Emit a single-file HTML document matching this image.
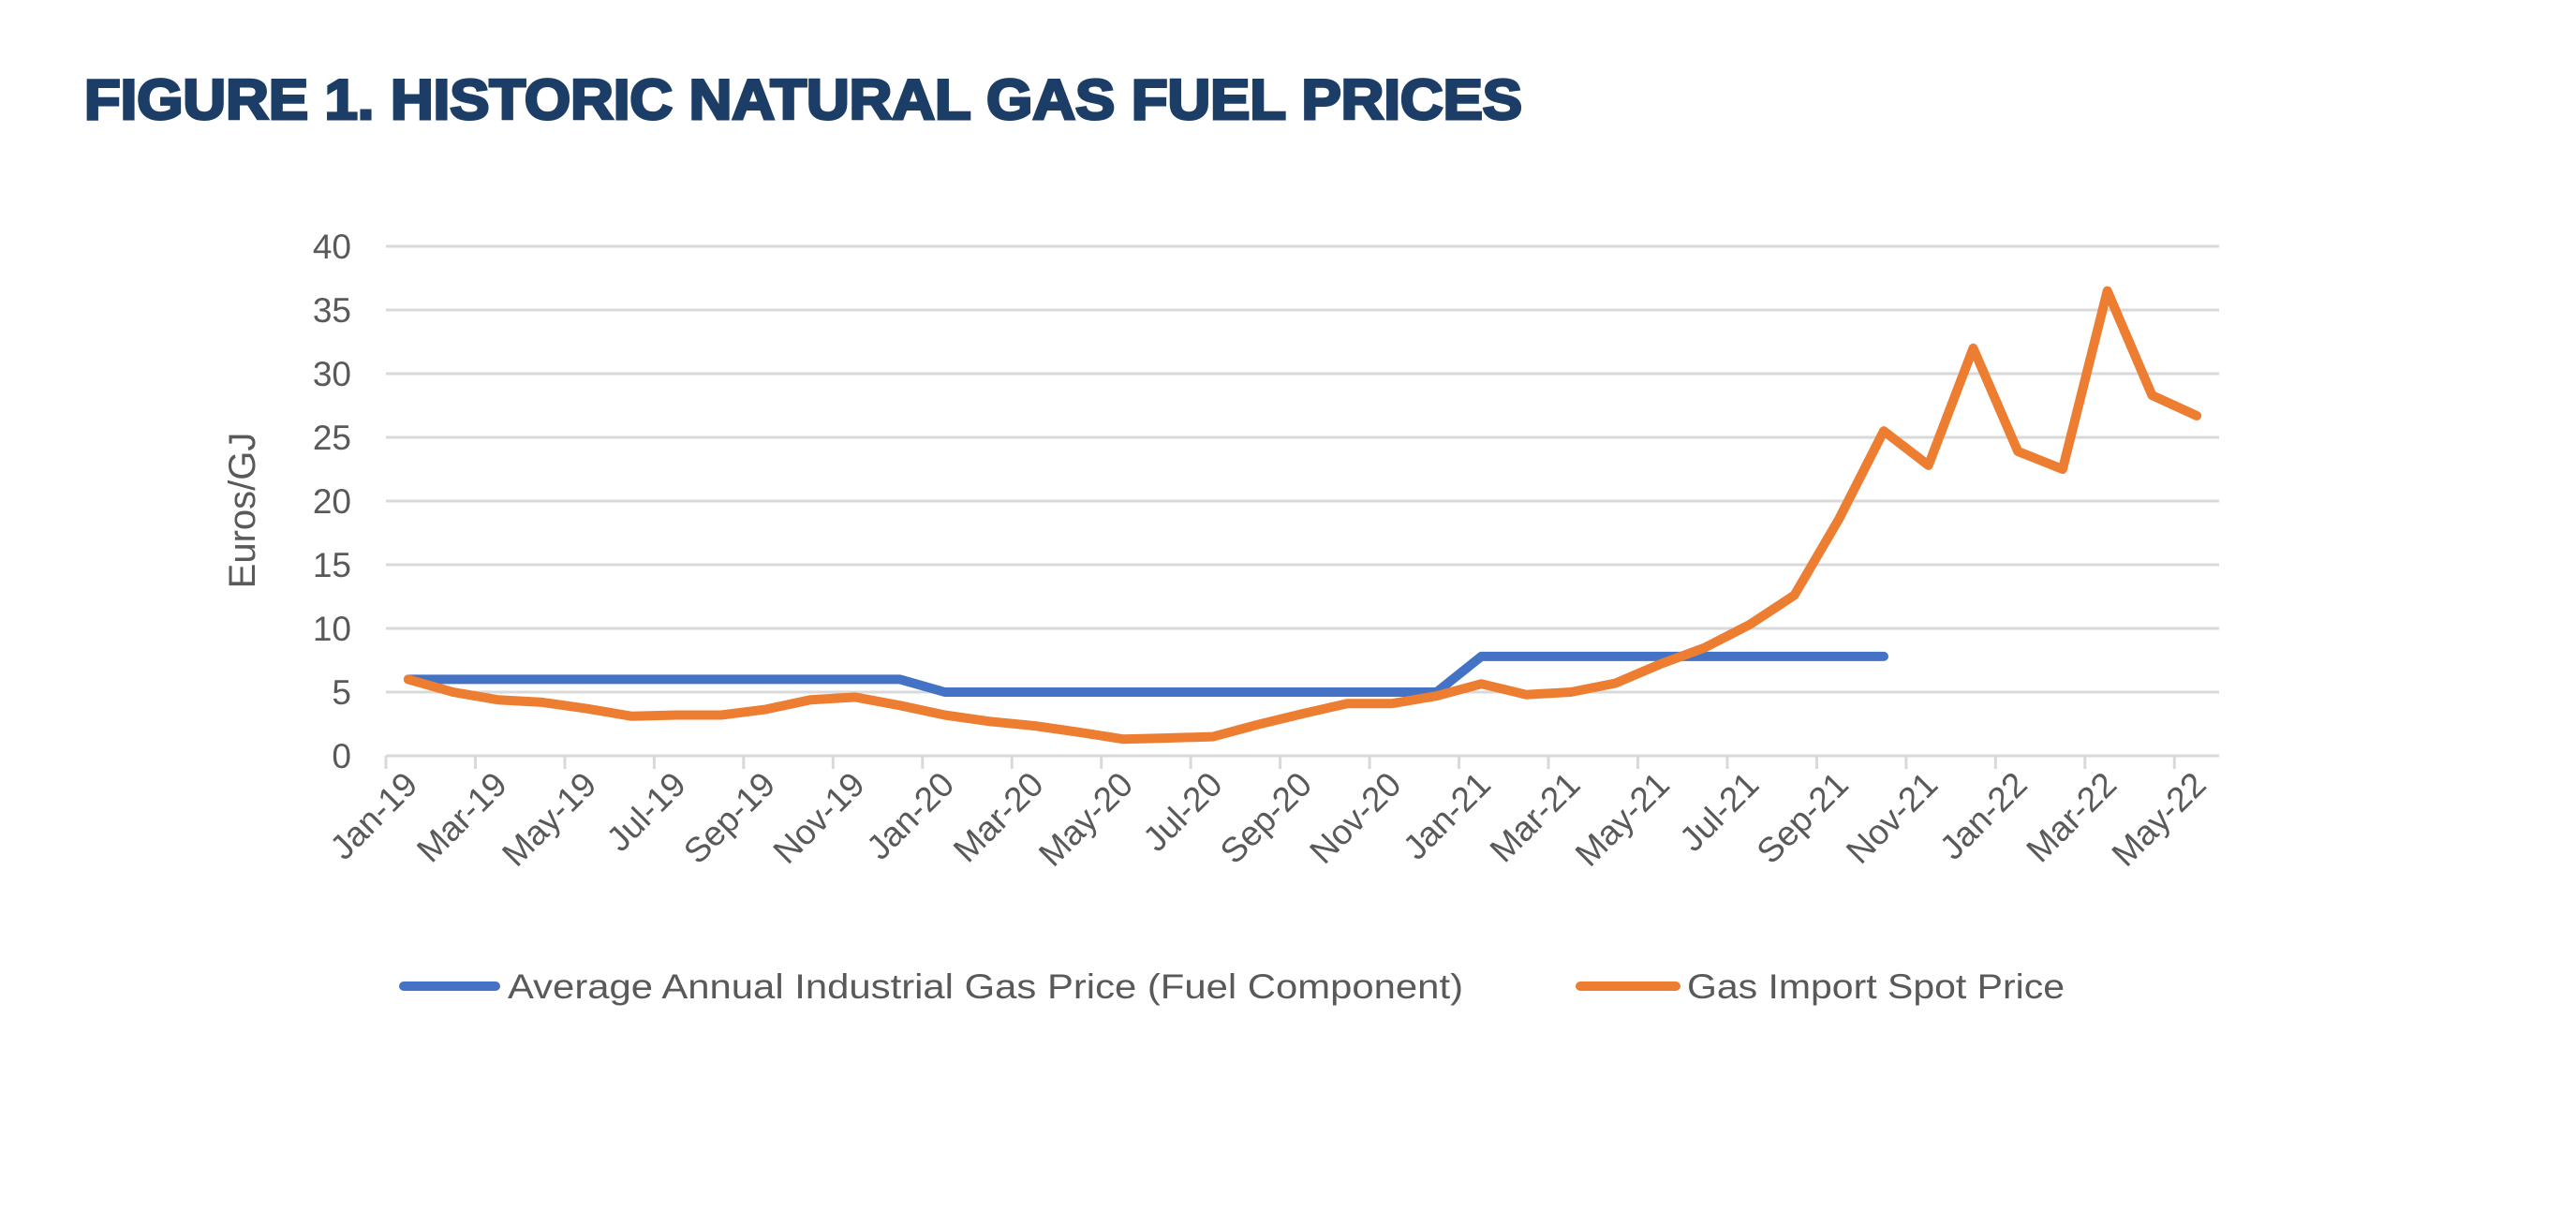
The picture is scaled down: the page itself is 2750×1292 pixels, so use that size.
<!DOCTYPE html>
<html><head><meta charset="utf-8"><style>
html,body{margin:0;padding:0;background:#fff;}
svg{display:block;}
</style></head><body>
<svg id="chart" width="2750" height="1292" viewBox="0 0 2750 1292" xmlns="http://www.w3.org/2000/svg">
<rect width="2750" height="1292" fill="#fff"/>
<text x="90" y="127" font-family="Liberation Sans, sans-serif" font-weight="900" font-size="60" fill="#1b3d66" stroke="#1b3d66" stroke-width="3" textLength="1535" lengthAdjust="spacingAndGlyphs">FIGURE 1. HISTORIC NATURAL GAS FUEL PRICES</text>
<g id="grid"></g>
<g id="yticks"></g>
<g id="xaxis"></g>
<g id="series"></g>
<text transform="translate(272,545) rotate(-90)" text-anchor="middle" font-family="Liberation Sans, sans-serif" font-size="40" fill="#595959">Euros/GJ</text>
<g>
<line x1="431" y1="1053" x2="529" y2="1053" stroke="#4472c4" stroke-width="10" stroke-linecap="round"/>
<text x="542" y="1066" font-family="Liberation Sans, sans-serif" font-size="37" fill="#595959" textLength="1020" lengthAdjust="spacingAndGlyphs">Average Annual Industrial Gas Price (Fuel Component)</text>
<line x1="1687" y1="1053" x2="1789" y2="1053" stroke="#ed7d31" stroke-width="10" stroke-linecap="round"/>
<text x="1801" y="1066" font-family="Liberation Sans, sans-serif" font-size="37" fill="#595959" textLength="403" lengthAdjust="spacingAndGlyphs">Gas Import Spot Price</text>
</g>
</svg>
<script>
const months = ["Jan","Feb","Mar","Apr","May","Jun","Jul","Aug","Sep","Oct","Nov","Dec"];
const categories = [];
for (const yr of ["19","20","21","22"]) for (const m of months) categories.push(m + "-" + yr);
categories.length = 41;
const spotPrice = [6,5,4.4,4.2,3.7,3.1,3.2,3.2,3.65,4.4,4.6,3.95,3.2,2.7,2.35,1.85,1.3,1.4,1.5,2.45,3.3,4.1,4.1,4.7,5.65,4.8,5.0,5.7,7.2,8.5,10.3,12.6,18.6,25.5,22.8,32.0,23.9,22.5,36.5,28.3,26.7];
const industrialPrice = [6,6,6,6,6,6,6,6,6,6,6,6,5,5,5,5,5,5,5,5,5,5,5,5,7.8,7.8,7.8,7.8,7.8,7.8,7.8,7.8,7.8,7.8];
const yTicks = [0,5,10,15,20,25,30,35,40];

const NS = "http://www.w3.org/2000/svg";
const L = 412, R = 2369, T = 263, B = 807, YMAX = 40;
const step = (R - L) / categories.length;
const xOf = i => L + (i + 0.5) * step;
const yOf = v => B - v / YMAX * (B - T);
function mk(tag, attrs, parent) {
  const e = document.createElementNS(NS, tag);
  for (const k in attrs) e.setAttribute(k, attrs[k]);
  parent.appendChild(e);
  return e;
}
const grid = document.getElementById("grid");
const yt = document.getElementById("yticks");
yTicks.forEach(v => {
  const g = mk("line", {x1: L, x2: R, y1: yOf(v), y2: yOf(v), stroke: "#d9d9d9", "stroke-width": 3}, grid);
  
  
  const t = mk("text", {x: 375, y: yOf(v) + 13, "text-anchor": "end", "font-family": "Liberation Sans, sans-serif", "font-size": 37, fill: "#595959"}, yt);
  t.textContent = v;
  
  
});
const xa = document.getElementById("xaxis");
for (let i = 0; i <= categories.length; i += 2) {
  const x = L + i * step;
  const tk = mk("line", {x1: x, x2: x, y1: B, y2: B + 14, stroke: "#d9d9d9", "stroke-width": 3}, xa);
  
  
}
categories.forEach((c, i) => {
  if (i % 2) return;
  const x = xOf(i) + 12, y = 840;
  const t = mk("text", {x: x, y: y, "text-anchor": "end", transform: `rotate(-45 ${x} ${y})`, "font-family": "Liberation Sans, sans-serif", "font-size": 37, fill: "#595959"}, xa);
  t.textContent = c;
  
  
});
const ser = document.getElementById("series");
function line(vals, color, name) {
  const d = vals.map((v, i) => (i ? "L" : "M") + xOf(i).toFixed(1) + " " + yOf(v).toFixed(1)).join(" ");
  const p = mk("path", {d: d, fill: "none", stroke: color, "stroke-width": 10, "stroke-linejoin": "round", "stroke-linecap": "round"}, ser);
  
  
}
line(industrialPrice, "#4472c4", "industrial-price-line");
line(spotPrice, "#ed7d31", "spot-price-line");
</script>
</body></html>
